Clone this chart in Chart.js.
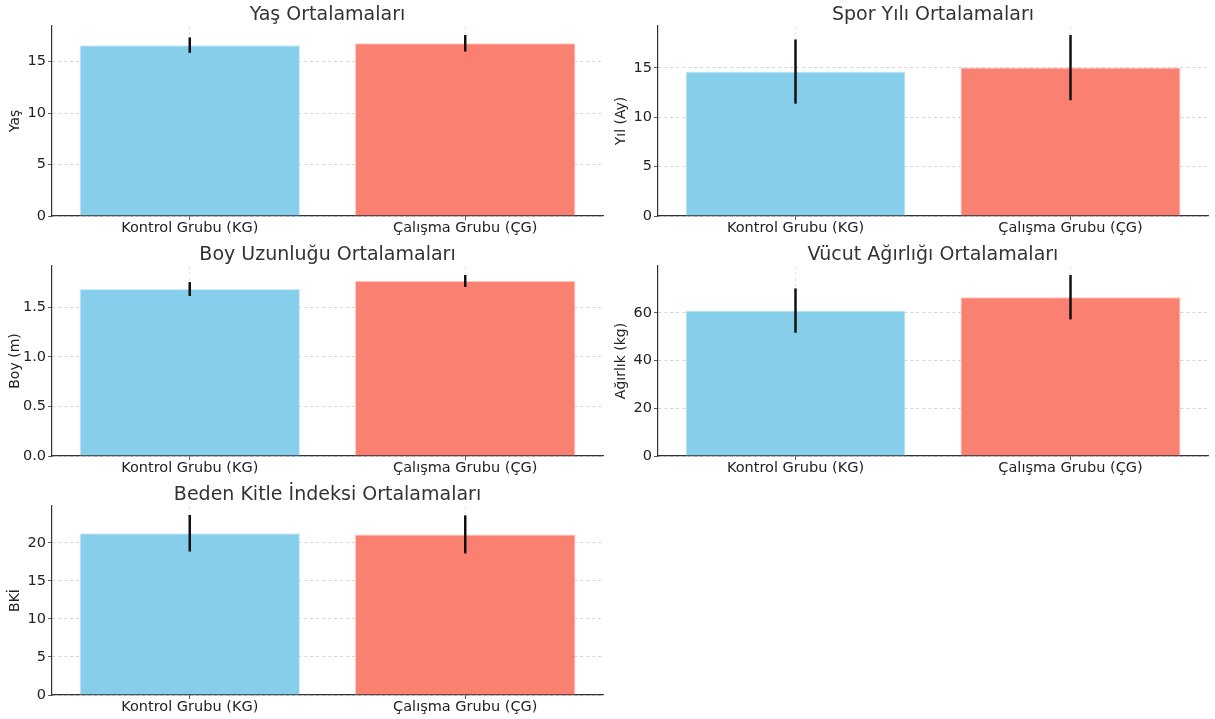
<!DOCTYPE html>
<html>
<head>
<meta charset="utf-8">
<script src="https://cdn.jsdelivr.net/npm/chart.js@4.4.1/dist/chart.umd.min.js"></script>
<style>
  html, body { margin: 0; padding: 0; background: #fff; }
  #wrap { position: relative; width: 1215px; height: 719px; overflow: hidden; }
  .panel { position: absolute; }
</style>
</head>
<body>
<div id="wrap">
  <div class="panel" style="left:0px;top:0px;width:607px;height:240px"><canvas id="c0"></canvas></div>
  <div class="panel" style="left:606px;top:0px;width:609px;height:240px"><canvas id="c1"></canvas></div>
  <div class="panel" style="left:0px;top:240px;width:607px;height:240px"><canvas id="c2"></canvas></div>
  <div class="panel" style="left:606px;top:240px;width:609px;height:240px"><canvas id="c3"></canvas></div>
  <div class="panel" style="left:0px;top:480px;width:607px;height:239px"><canvas id="c4"></canvas></div>
</div>
<script>
// ---- Data ----
const categories = ["Kontrol Grubu (KG)", "Çalışma Grubu (ÇG)"];

const titles = ["Yaş Ortalamaları", "Spor Yılı Ortalamaları", "Boy Uzunluğu Ortalamaları", "Vücut Ağırlığı Ortalamaları", "Beden Kitle İndeksi Ortalamaları"];
const yLabels = ["Yaş", "Yıl (Ay)", "Boy (m)", "Ağırlık (kg)", "BKİ"];

const ageMeans = [16.6, 16.78];
const ageErrors = [0.75, 0.8];

const sportMeans = [14.63, 15.03];
const sportErrors = [3.25, 3.3];

const heightMeans = [1.685, 1.766];
const heightErrors = [0.07, 0.06];

const weightMeans = [61.0, 66.6];
const weightErrors = [9.3, 9.3];

const bmiMeans = [21.25, 21.1];
const bmiErrors = [2.4, 2.5];

const ageTicks = [0, 5, 10, 15];
const sportTicks = [0, 5, 10, 15];
const heightTicks = [0.0, 0.5, 1.0, 1.5];
const weightTicks = [0, 20, 40, 60];
const bmiTicks = [0, 5, 10, 15, 20];

const tickDecimals = [0, 0, 1, 0, 0];

const panels = [
  { means: ageMeans, errors: ageErrors, ticks: ageTicks },
  { means: sportMeans, errors: sportErrors, ticks: sportTicks },
  { means: heightMeans, errors: heightErrors, ticks: heightTicks },
  { means: weightMeans, errors: weightErrors, ticks: weightTicks },
  { means: bmiMeans, errors: bmiErrors, ticks: bmiTicks }
];

const barColors = ["#87CEEB", "#FA8072"];
const FONT = "'DejaVu Sans', 'Liberation Sans', sans-serif";

const errorBarPlugin = {
  id: 'errorBars',
  afterDatasetsDraw(chart) {
    const ctx = chart.ctx;
    const meta = chart.getDatasetMeta(0);
    const ys = chart.scales.y;
    const ds = chart.data.datasets[0];
    ctx.save();
    ctx.strokeStyle = '#111';
    ctx.lineWidth = 2.5;
    meta.data.forEach((bar, i) => {
      const m = ds.data[i], e = ds.errors[i];
      const y1 = ys.getPixelForValue(m + e);
      const y2 = ys.getPixelForValue(m - e);
      ctx.beginPath();
      ctx.moveTo(bar.x, y1);
      ctx.lineTo(bar.x, y2);
      ctx.stroke();
    });
    ctx.restore();
  }
};

// Title centred over the plot area (as matplotlib does)
const areaTitlePlugin = {
  id: 'areaTitle',
  afterDraw(chart, args, opts) {
    const ctx = chart.ctx;
    const a = chart.chartArea;
    ctx.save();
    ctx.fillStyle = '#333';
    ctx.font = `19px ${FONT}`;
    ctx.textAlign = 'center';
    ctx.textBaseline = 'middle';
    ctx.fillText(opts.text, (a.left + a.right) / 2, 15);
    ctx.restore();
  }
};

panels.forEach((p, idx) => {
  const top = Math.max(...p.means.map((m, i) => m + p.errors[i]));
  const yMax = top * 1.05;
  const dec = tickDecimals[idx];
  new Chart(document.getElementById('c' + idx), {
    type: 'bar',
    data: {
      labels: categories,
      datasets: [{
        data: p.means,
        errors: p.errors,
        backgroundColor: barColors,
        borderColor: ['rgba(200,235,250,0.9)', 'rgba(252,190,180,0.9)'],
        borderWidth: 1,
        barPercentage: 0.8,
        categoryPercentage: 1.0
      }]
    },
    options: {
      responsive: true,
      maintainAspectRatio: false,
      animation: false,
      devicePixelRatio: 1,
      layout: { padding: { left: 0, right: idx % 2 === 0 ? 4 : 7, top: 26, bottom: 0 } },
      plugins: {
        legend: { display: false },
        tooltip: { enabled: false },
        title: { display: false },
        areaTitle: { text: titles[idx] }
      },
      scales: {
        x: {
          z: 1,
          offset: true,
          afterFit(scale) { scale.height = 24; },
          grid: {
            display: true,
            color: 'rgba(170,170,170,0.4)',
            tickColor: '#333',
            tickLength: 4,
            offset: false,
            lineWidth: 0.8
          },
          border: { display: true, color: '#333', width: 1.2, dash: [3, 3] },
          ticks: { color: '#222', font: { family: FONT, size: 14.5 }, padding: 0, maxRotation: 0 }
        },
        y: {
          min: 0,
          max: yMax,
          afterFit(scale) { scale.width = 52; },
          afterBuildTicks(scale) { scale.ticks = p.ticks.map(v => ({ value: v })); },
          grid: {
            color: 'rgba(195,195,195,0.9)',
            tickColor: '#333',
            tickLength: 4,
            lineWidth: 0.8
          },
          border: { display: true, color: '#333', width: 1.2, dash: [3, 3] },
          ticks: {
            color: '#222',
            font: { family: FONT, size: 14.5 },
            padding: 2,
            callback: (v) => Number(v).toFixed(dec)
          },
          title: {
            display: true,
            text: yLabels[idx],
            color: '#222',
            font: { family: FONT, size: 14 },
            padding: { top: 7, bottom: 0 }
          }
        }
      }
    },
    plugins: [errorBarPlugin, areaTitlePlugin]
  });
});
</script>
</body>
</html>
